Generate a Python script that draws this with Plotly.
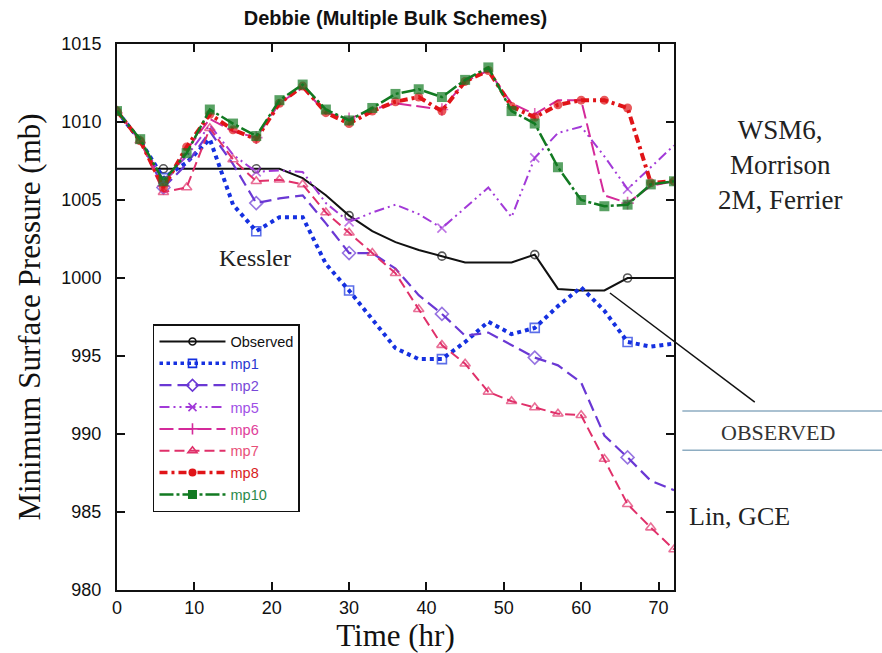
import plotly.graph_objects as go

# ---------------- data ----------------
hours = [0, 3, 6, 9, 12, 15, 18, 21, 24, 27, 30, 33, 36, 39, 42, 45, 48, 51, 54, 57, 60, 63, 66, 69, 72]

observed = [1007.0, 1007.0, 1007.0, 1007.0, 1007.0, 1007.0, 1007.0, 1007.0, 1006.4, 1005.3, 1004.0, 1003.0, 1002.3,
            1001.8, 1001.4, 1001.0, 1001.0, 1001.0, 1001.5, 999.3, 999.2, 999.2, 1000.0, 1000.0, 1000.0]
mp1 = [1010.7, 1008.8, 1006.4, 1007.4, 1008.9, 1004.7, 1003.0, 1003.9, 1003.9, 1000.9, 999.2, 997.4, 995.5,
       994.8, 994.8, 995.9, 997.2, 996.4, 996.8, 998.2, 999.4, 997.9, 995.9, 995.6, 995.8]
mp2 = [1010.7, 1008.8, 1005.8, 1007.3, 1009.4, 1007.3, 1004.8, 1005.1, 1005.3, 1003.5, 1001.6, 1001.6, 1000.6,
       998.9, 997.7, 996.3, 996.5, 995.7, 994.9, 994.4, 993.3, 989.9, 988.5, 987.0, 986.4]
mp5 = [1010.7, 1008.8, 1006.3, 1007.8, 1009.8, 1007.9, 1006.8, 1006.9, 1006.8, 1004.8, 1003.6, 1004.2, 1004.7,
       1004.1, 1003.2, 1004.5, 1005.8, 1003.9, 1007.7, 1009.3, 1009.7, 1007.8, 1005.7, 1007.1, 1008.5]
mp6 = [1010.7, 1008.8, 1005.9, 1008.2, 1010.2, 1009.4, 1009.0, 1011.2, 1012.2, 1010.6, 1010.2, 1010.8, 1011.2,
       1011.0, 1010.8, 1012.6, 1013.3, 1011.2, 1010.5, 1011.4, 1011.4, 1005.3, 1004.8, 1005.9, 1006.2]
mp7 = [1010.7, 1008.8, 1005.5, 1005.8, 1009.6, 1007.6, 1006.2, 1006.3, 1006.0, 1004.2, 1002.9, 1001.6, 1000.3,
       998.0, 995.7, 994.5, 992.7, 992.1, 991.7, 991.3, 991.2, 988.4, 985.5, 984.0, 982.6]
mp8 = [1010.7, 1008.8, 1005.8, 1008.4, 1010.5, 1009.5, 1008.9, 1011.2, 1012.3, 1010.6, 1009.9, 1010.7, 1011.3,
       1011.6, 1010.7, 1012.6, 1013.3, 1011.0, 1010.3, 1011.1, 1011.4, 1011.4, 1010.9, 1006.1, 1006.2]
mp10 = [1010.7, 1008.9, 1006.2, 1008.0, 1010.8, 1009.9, 1009.1, 1011.4, 1012.4, 1010.8, 1010.1, 1010.9, 1011.8,
        1012.1, 1011.6, 1012.7, 1013.5, 1010.7, 1009.9, 1007.1, 1005.0, 1004.6, 1004.7, 1006.0, 1006.2]

series_names = ["Observed", "mp1", "mp2", "mp5", "mp6", "mp7", "mp8", "mp10"]
x_ticks = [0, 10, 20, 30, 40, 50, 60, 70]
y_ticks = [980, 985, 990, 995, 1000, 1005, 1010, 1015]

# ---------------- styles ----------------
SERIF = "Liberation Serif, Times New Roman, serif"
SANS = "Liberation Sans, Arial, sans-serif"

every12 = {6, 18, 30, 42, 54, 66}

styles = {
    "Observed": dict(data=observed, color="#111111", text="#111111", dash="solid", width=2,
                     symbol="circle-open", msize=8, every=every12),
    "mp1": dict(data=mp1, color="#1530e0", text="#2838d0", dash="dot", width=4,
                symbol="square-open", msize=9, every=every12),
    "mp2": dict(data=mp2, color="#6a38d4", text="#7848d8", dash="12px,6px", width=2.2,
                symbol="diamond-open", msize=10, every=every12),
    "mp5": dict(data=mp5, color="#a23ad8", text="#a050e6", dash="10px,4px,2px,4px,2px,4px", width=2,
                symbol="x-thin-open", msize=9, every=every12),
    "mp6": dict(data=mp6, color="#d42a9a", text="#e0409a", dash="14px,5px", width=2,
                symbol="cross-thin-open", msize=9, every=every12),
    "mp7": dict(data=mp7, color="#e0306a", text="#e85078", dash="10px,5px", width=2,
                symbol="triangle-up-open", msize=9, every=None),
    "mp8": dict(data=mp8, color="#e01418", text="#d82222", dash="8px,4px,3px,4px", width=4,
                symbol="circle", msize=9, every=None),
    "mp10": dict(data=mp10, color="#127a22", text="#2a8a4a", dash="14px,3px,3px,3px", width=2.5,
                 symbol="square", msize=10, every=None),
}

fig = go.Figure()

for name in series_names:
    s = styles[name]
    sizes = [s["msize"] if (s["every"] is None or h in s["every"]) else 0 for h in hours]
    line_w = 1.6 if "open" in s["symbol"] else 0
    fig.add_trace(go.Scatter(
        x=hours, y=s["data"], mode="lines+markers", showlegend=False, name=name,
        line=dict(color=s["color"], width=s["width"], dash=s["dash"]),
        marker=dict(symbol=s["symbol"], size=sizes, color=s["color"],
                    line=dict(color=s["color"], width=line_w)),
    ))

# legend entries
for name in series_names:
    s = styles[name]
    line_w = 1.6 if "open" in s["symbol"] else 0
    fig.add_trace(go.Scatter(
        x=[None], y=[None], mode="lines+markers",
        name=f'<span style="color:{s["text"]}">{name}</span>',
        line=dict(color=s["color"], width=min(s["width"], 3.5), dash=s["dash"]),
        marker=dict(symbol=s["symbol"], size=s["msize"] - 1, color=s["color"],
                    line=dict(color=s["color"], width=line_w)),
    ))

# annotations
ann_font = dict(family=SERIF, color="#222222")
fig.add_annotation(x=0.247, y=0.608, xref="paper", yref="paper", text="Kessler", showarrow=False,
                   xanchor="center", yanchor="middle", font=dict(size=24, **ann_font))
fig.add_annotation(x=1.19, y=0.778, xref="paper", yref="paper",
                   text="WSM6,<br>Morrison<br>2M, Ferrier", showarrow=False, align="center",
                   xanchor="center", yanchor="middle", font=dict(size=27, **ann_font))
fig.add_annotation(x=1.187, y=0.289, xref="paper", yref="paper", text="OBSERVED", showarrow=False,
                   xanchor="center", yanchor="middle", font=dict(size=22, family=SERIF, color="#333333"))
fig.add_annotation(x=1.118, y=0.134, xref="paper", yref="paper", text="Lin, GCE", showarrow=False,
                   xanchor="center", yanchor="middle", font=dict(size=26, **ann_font))

# pointer line from observed curve and the two rules around "OBSERVED"
fig.add_shape(type="line", xref="paper", yref="paper", x0=0.885, y0=0.544, x1=1.145, y1=0.344,
              line=dict(color="#111111", width=1.5))
for yy in (0.328, 0.256):
    fig.add_shape(type="line", xref="paper", yref="paper", x0=1.015, y0=yy, x1=1.4, y1=yy,
                  line=dict(color="#8eadc2", width=1.5))

fig.update_layout(
    width=882, height=653,
    margin=dict(l=117, r=208, t=44, b=63),
    paper_bgcolor="white", plot_bgcolor="white",
    title=dict(text="<b>Debbie (Multiple Bulk Schemes)</b>", x=0.5, xref="paper",
               y=0.972, yref="container", yanchor="middle", xanchor="center",
               font=dict(family=SANS, size=20, color="#111111")),
    legend=dict(x=0.0646, y=0.487, xanchor="left", yanchor="top",
                bgcolor="white", bordercolor="#111111", borderwidth=1.5,
                font=dict(family=SANS, size=14.5, color="#111111"),
                itemwidth=66, tracegroupgap=0),
    showlegend=True,
)

fig.update_xaxes(range=[0, 72], tickvals=x_ticks, ticks="inside", ticklen=8, tickwidth=1.5,
                 tickcolor="#111111", showline=True, linecolor="#111111", linewidth=2, mirror="ticks",
                 showgrid=False, zeroline=False,
                 tickfont=dict(family=SANS, size=18, color="#111111"),
                 title=dict(text="Time (hr)", font=dict(family=SERIF, size=31, color="#111111"), standoff=1))
fig.update_yaxes(range=[980, 1015], tickvals=y_ticks, ticks="inside", ticklen=8, tickwidth=1.5,
                 tickcolor="#111111", showline=True, linecolor="#111111", linewidth=2, mirror="ticks",
                 showgrid=False, zeroline=False, ticklabelstandoff=10,
                 tickfont=dict(family=SANS, size=18, color="#111111"),
                 title=dict(text="Minimum Surface Pressure (mb)", font=dict(family=SERIF, size=31, color="#111111"),
                            standoff=12))

fig.write_html("out.html")
